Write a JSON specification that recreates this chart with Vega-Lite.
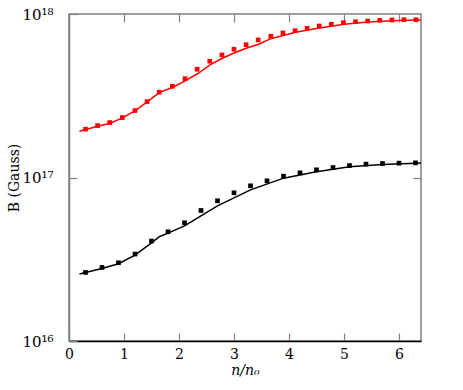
{
  "$schema": "https://vega.github.io/schema/vega-lite/v6.json",
  "width": 352,
  "height": 327,
  "autosize": {"type": "none"},
  "padding": {"left": 69, "top": 14, "right": 42, "bottom": 49},
  "background": "white",
  "config": {
    "view": {"stroke": "#808080", "strokeWidth": 1.5},
    "font": "DejaVu Serif",
    "axis": {"labelFont": "DejaVu Serif", "titleFont": "DejaVu Serif", "labelFontSize": 14, "titleFontSize": 14, "labelColor": "#000", "titleColor": "#000", "titleFontWeight": "normal", "grid": false}
  },
  "datasets": {
    "fit": [
      {"x": 0.19, "B": 1.92e17, "s": "red"},
      {"x": 0.52, "B": 2.06e17, "s": "red"},
      {"x": 0.75, "B": 2.149e17, "s": "red"},
      {"x": 0.97, "B": 2.315e17, "s": "red"},
      {"x": 1.2, "B": 2.555e17, "s": "red"},
      {"x": 1.42, "B": 2.899e17, "s": "red"},
      {"x": 1.64, "B": 3.304e17, "s": "red"},
      {"x": 1.89, "B": 3.565e17, "s": "red"},
      {"x": 2.12, "B": 3.911e17, "s": "red"},
      {"x": 2.35, "B": 4.341e17, "s": "red"},
      {"x": 2.57, "B": 4.9e17, "s": "red"},
      {"x": 2.79, "B": 5.361e17, "s": "red"},
      {"x": 3.0, "B": 5.776e17, "s": "red"},
      {"x": 3.22, "B": 6.171e17, "s": "red"},
      {"x": 3.45, "B": 6.528e17, "s": "red"},
      {"x": 3.67, "B": 7.066e17, "s": "red"},
      {"x": 4.12, "B": 7.731e17, "s": "red"},
      {"x": 4.55, "B": 8.21e17, "s": "red"},
      {"x": 5.0, "B": 8.65e17, "s": "red"},
      {"x": 5.43, "B": 8.94e17, "s": "red"},
      {"x": 5.88, "B": 9.1e17, "s": "red"},
      {"x": 6.31, "B": 9.19e17, "s": "red"},
      {"x": 6.4, "B": 9.2e17, "s": "red"},
      {"x": 0.19, "B": 2.567e16, "s": "black"},
      {"x": 0.6, "B": 2.778e16, "s": "black"},
      {"x": 0.9, "B": 2.968e16, "s": "black"},
      {"x": 1.2, "B": 3.354e16, "s": "black"},
      {"x": 1.5, "B": 3.988e16, "s": "black"},
      {"x": 1.65, "B": 4.357e16, "s": "black"},
      {"x": 1.8, "B": 4.571e16, "s": "black"},
      {"x": 2.1, "B": 5.064e16, "s": "black"},
      {"x": 2.4, "B": 5.832e16, "s": "black"},
      {"x": 2.7, "B": 6.711e16, "s": "black"},
      {"x": 3.0, "B": 7.511e16, "s": "black"},
      {"x": 3.3, "B": 8.404e16, "s": "black"},
      {"x": 3.9, "B": 9.91e16, "s": "black"},
      {"x": 4.5, "B": 1.083e17, "s": "black"},
      {"x": 5.1, "B": 1.162e17, "s": "black"},
      {"x": 5.7, "B": 1.2e17, "s": "black"},
      {"x": 6.3, "B": 1.224e17, "s": "black"},
      {"x": 6.4, "B": 1.226e17, "s": "black"}
    ],
    "pts": [
      {"x": 0.3, "B": 1.975e17, "s": "red"},
      {"x": 0.52, "B": 2.077e17, "s": "red"},
      {"x": 0.74, "B": 2.167e17, "s": "red"},
      {"x": 0.97, "B": 2.325e17, "s": "red"},
      {"x": 1.2, "B": 2.566e17, "s": "red"},
      {"x": 1.42, "B": 2.912e17, "s": "red"},
      {"x": 1.64, "B": 3.323e17, "s": "red"},
      {"x": 1.88, "B": 3.615e17, "s": "red"},
      {"x": 2.11, "B": 4.024e17, "s": "red"},
      {"x": 2.33, "B": 4.593e17, "s": "red"},
      {"x": 2.56, "B": 5.14e17, "s": "red"},
      {"x": 2.78, "B": 5.616e17, "s": "red"},
      {"x": 3.0, "B": 6.085e17, "s": "red"},
      {"x": 3.22, "B": 6.492e17, "s": "red"},
      {"x": 3.44, "B": 6.937e17, "s": "red"},
      {"x": 3.67, "B": 7.307e17, "s": "red"},
      {"x": 3.89, "B": 7.655e17, "s": "red"},
      {"x": 4.11, "B": 7.907e17, "s": "red"},
      {"x": 4.33, "B": 8.177e17, "s": "red"},
      {"x": 4.55, "B": 8.446e17, "s": "red"},
      {"x": 4.77, "B": 8.65e17, "s": "red"},
      {"x": 4.99, "B": 8.845e17, "s": "red"},
      {"x": 5.21, "B": 8.97e17, "s": "red"},
      {"x": 5.43, "B": 9.06e17, "s": "red"},
      {"x": 5.65, "B": 9.15e17, "s": "red"},
      {"x": 5.87, "B": 9.19e17, "s": "red"},
      {"x": 6.09, "B": 9.23e17, "s": "red"},
      {"x": 6.31, "B": 9.23e17, "s": "red"},
      {"x": 0.3, "B": 2.626e16, "s": "black"},
      {"x": 0.6, "B": 2.818e16, "s": "black"},
      {"x": 0.9, "B": 3.01e16, "s": "black"},
      {"x": 1.2, "B": 3.401e16, "s": "black"},
      {"x": 1.5, "B": 4.084e16, "s": "black"},
      {"x": 1.8, "B": 4.655e16, "s": "black"},
      {"x": 2.1, "B": 5.284e16, "s": "black"},
      {"x": 2.4, "B": 6.284e16, "s": "black"},
      {"x": 2.7, "B": 7.201e16, "s": "black"},
      {"x": 3.0, "B": 8.057e16, "s": "black"},
      {"x": 3.3, "B": 8.892e16, "s": "black"},
      {"x": 3.6, "B": 9.54e16, "s": "black"},
      {"x": 3.9, "B": 1.019e17, "s": "black"},
      {"x": 4.2, "B": 1.068e17, "s": "black"},
      {"x": 4.5, "B": 1.114e17, "s": "black"},
      {"x": 4.8, "B": 1.15e17, "s": "black"},
      {"x": 5.1, "B": 1.183e17, "s": "black"},
      {"x": 5.4, "B": 1.207e17, "s": "black"},
      {"x": 5.7, "B": 1.217e17, "s": "black"},
      {"x": 6.0, "B": 1.224e17, "s": "black"},
      {"x": 6.3, "B": 1.229e17, "s": "black"}
    ]
  },
  "layer": [
    {
      "data": {"name": "fit"},
      "mark": {"type": "line", "strokeWidth": 1.5, "clip": true},
      "encoding": {
        "x": {"field": "x", "type": "quantitative", "scale": {"domain": [0, 6.4], "nice": false, "zero": false},
          "axis": {"values": [0, 1, 2, 3, 4, 5, 6], "title": "n/n₀", "titleFontStyle": "italic", "domainColor": "#000", "domainWidth": 1.5, "tickColor": "#808080", "tickSize": -8, "tickWidth": 1.2, "labelPadding": 14, "titlePadding": 2, "labelFlush": false}},
        "y": {"field": "B", "type": "quantitative", "scale": {"type": "log", "domain": [1e16, 1e18], "nice": false},
          "axis": {"values": [1e16, 1e17, 1e18], "labelExpr": "datum.value > 5e17 ? '10¹⁸' : datum.value > 5e16 ? '10¹⁷' : '10¹⁶'", "title": "B (Gauss)", "domainColor": "#808080", "domainWidth": 1.5, "tickColor": "#808080", "tickSize": -8, "tickWidth": 1.2, "labelPadding": 24, "labelFontSize": 15, "labelBaseline": "middle", "titlePadding": 0, "labelFlush": false}},
        "color": {"field": "s", "type": "nominal", "scale": {"domain": ["red", "black"], "range": ["#ff0000", "#000000"]}, "legend": null},
        "detail": {"field": "s"}
      }
    },
    {
      "data": {"name": "pts"},
      "mark": {"type": "point", "shape": "square", "filled": true, "opacity": 1, "size": 22},
      "encoding": {
        "x": {"field": "x", "type": "quantitative", "scale": {"domain": [0, 6.4], "nice": false, "zero": false},
          "axis": {"orient": "top", "values": [1, 2, 3, 4, 5, 6], "labels": false, "title": null, "domain": false, "tickColor": "#808080", "tickSize": -8, "tickWidth": 1.2}},
        "y": {"field": "B", "type": "quantitative", "scale": {"type": "log", "domain": [1e16, 1e18], "nice": false},
          "axis": {"orient": "right", "values": [1e17], "labels": false, "title": null, "domain": false, "tickColor": "#808080", "tickSize": -8, "tickWidth": 1.2}},
        "color": {"field": "s", "type": "nominal", "scale": {"domain": ["red", "black"], "range": ["#ff0000", "#000000"]}, "legend": null}
      }
    }
  ],
  "resolve": {"axis": {"x": "independent", "y": "independent"}}
}
